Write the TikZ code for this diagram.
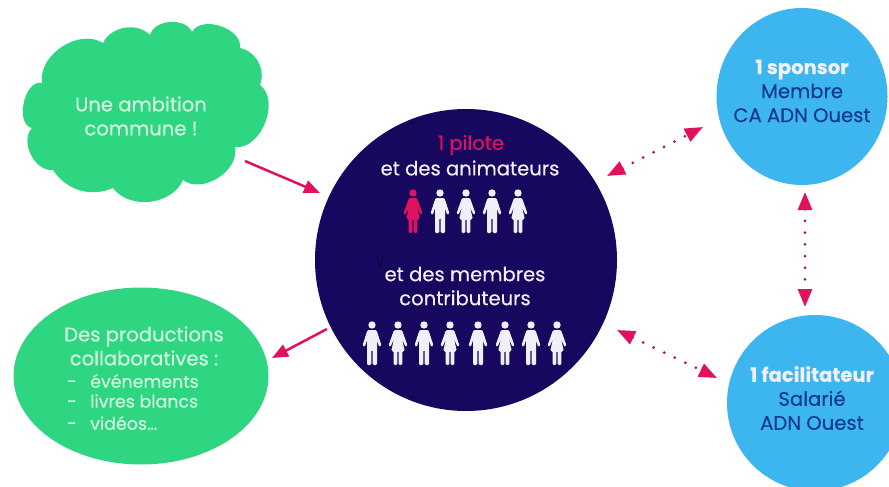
\documentclass[tikz,border=0pt]{standalone}
\usepackage{fontspec}
\setmainfont{Poppins}[FakeBold=0.25]
\usetikzlibrary{arrows.meta,shapes.geometric}
\definecolor{navy}{HTML}{17075E}
\definecolor{pinkc}{HTML}{E0115F}
\definecolor{greenc}{HTML}{2FD682}
\definecolor{bluec}{HTML}{3DB5EE}
\definecolor{darkb}{HTML}{123A8C}
\definecolor{softw}{HTML}{F1F0FA}
\definecolor{softg}{HTML}{D2F9E2}
\tikzset{
  x=1pt,y=-1pt,
  blob/.style={ellipse,fill=bluec,inner sep=0pt},
  lbl/.style={font=\fontsize{19.6}{24}\selectfont,align=center,text=softw,inner sep=0pt},
  greenlbl/.style={lbl,text=softg},
  listlbl/.style={font=\fontsize{17.4}{20}\selectfont,text=softg,inner sep=0pt,anchor=west},
  solidarrow/.style={draw=pinkc,line width=2.5pt,-{Triangle[length=16pt,width=13pt]}},
  dotarrow/.style={draw=pinkc!70!navy,line width=3pt,line cap=round,dash pattern=on 0pt off 11.7pt,
    {Triangle[length=18pt,width=14pt,fill=pinkc,color=pinkc]}-{Triangle[length=18pt,width=14pt,fill=pinkc,color=pinkc]}},
  pics/man/.style={code={
    \fill[#1] (0,4) circle[radius=3.7];
    \fill[#1,rounded corners=1.2pt] (-4.5,9) -- (4.5,9) -- (9.5,24.5) -- (7.2,26) -- (5,19) -- (5,44) -- (0.7,44) -- (0.7,29) -- (-0.7,29) -- (-0.7,44) -- (-5,44) -- (-5,19) -- (-7.2,26) -- (-9.5,24.5) -- cycle;
  }},
  pics/woman/.style={code={
    \fill[#1] (0,4) circle[radius=3.7];
    \fill[#1,rounded corners=1.2pt] (-4,9) -- (4,9) -- (9.5,24.5) -- (7.6,26) -- (4,18) -- (6.8,30) -- (4.4,30) -- (4.4,44) -- (0.7,44) -- (0.7,30) -- (-0.7,30) -- (-0.7,44) -- (-4.4,44) -- (-4.4,30) -- (-6.8,30) -- (-4,18) -- (-7.6,26) -- (-9.5,24.5) -- cycle;
  }}
}
\begin{document}
\begin{tikzpicture}
\useasboundingbox (0,0) rectangle (889,487);
\clip (0,0) rectangle (889,487);
% cloud
\fill[greenc] (42,83) to[bend left=65] (103,43) to[bend left=55] (150,35) to[bend left=70] (192,32)
  to[bend left=80] (240,48) to[bend left=50] (260,85) to[bend left=75] (235,147) to[bend left=70] (183,180)
  to[bend left=60] (113,188) to[bend left=40] (53,170) to[bend left=70] (32,128) to[bend left=90] cycle;
\node[greenlbl] (cloud) at (141,116) {Une ambition\\commune !};
% green ellipse
\node[ellipse,fill=greenc,minimum width=255pt,minimum height=177pt,inner sep=0pt] (prod) at (141,376) {};
\node[greenlbl] (prodt) at (144,346) {Des productions\\collaboratives :};
\node[listlbl] (d1) at (67,384) {-};
\node[listlbl] (d2) at (67,404) {-};
\node[listlbl] (d3) at (67,426) {-};
\node[listlbl] (l1) at (90,381) {événements};
\node[listlbl] (l2) at (90,401) {livres blancs};
\node[listlbl] (l3) at (90,423) {vidéos…};
% centre
\node[circle,fill=navy,minimum size=302pt,inner sep=0pt] (centre) at (466,260) {};
\node[lbl,text=pinkc] (pilote) at (471,145) {1 pilote};
\node[lbl] (anim) at (470,168) {et des animateurs};
\node[lbl] (membres) at (465,286) {et des membres\\contributeurs};
\draw[navy!70!black,line width=1pt] (377,257) -- (380,266) -- (383,256);
\pic at (413,189) {woman=pinkc};
\pic at (440,189) {man=softw};
\pic at (466,189) {woman=softw};
\pic at (492,189) {man=softw};
\pic at (518,189) {woman=softw};
\pic at (372,321) {man=softw};
\pic at (398,321) {woman=softw};
\pic at (424,321) {man=softw};
\pic at (450,321) {woman=softw};
\pic at (478,321) {man=softw};
\pic at (505,321) {woman=softw};
\pic at (531,321) {man=softw};
\pic at (557,321) {woman=softw};
% right circles
\node[blob,minimum width=171pt,minimum height=177pt] (sponsor) at (802,96.5) {};
\node[blob,minimum width=176pt,minimum height=176pt] (facil) at (815,403) {};
\node[lbl,text=darkb] (st) at (802,91) {{\color{softw}\bfseries 1 sponsor}\\Membre\\CA ADN Ouest};
\node[lbl,text=darkb] (ft) at (812,398) {{\color{softw}\bfseries 1 facilitateur}\\Salarié\\ADN Ouest};
% arrows
\coordinate (a1s) at (245,161); \coordinate (a1e) at (320,193);
\coordinate (a2s) at (327,329); \coordinate (a2e) at (272,358);
\coordinate (b1s) at (607,176); \coordinate (b1e) at (703,127);
\coordinate (b2s) at (805,192); \coordinate (b2e) at (805,307);
\coordinate (b3s) at (617,330); \coordinate (b3e) at (717,378);
\draw[solidarrow] (a1s) -- (a1e);
\draw[solidarrow] (a2s) -- (a2e);
\draw[dotarrow] (b1s) -- (b1e);
\draw[dotarrow] (b2s) -- (b2e);
\draw[dotarrow] (b3s) -- (b3e);
\end{tikzpicture}
\end{document}
